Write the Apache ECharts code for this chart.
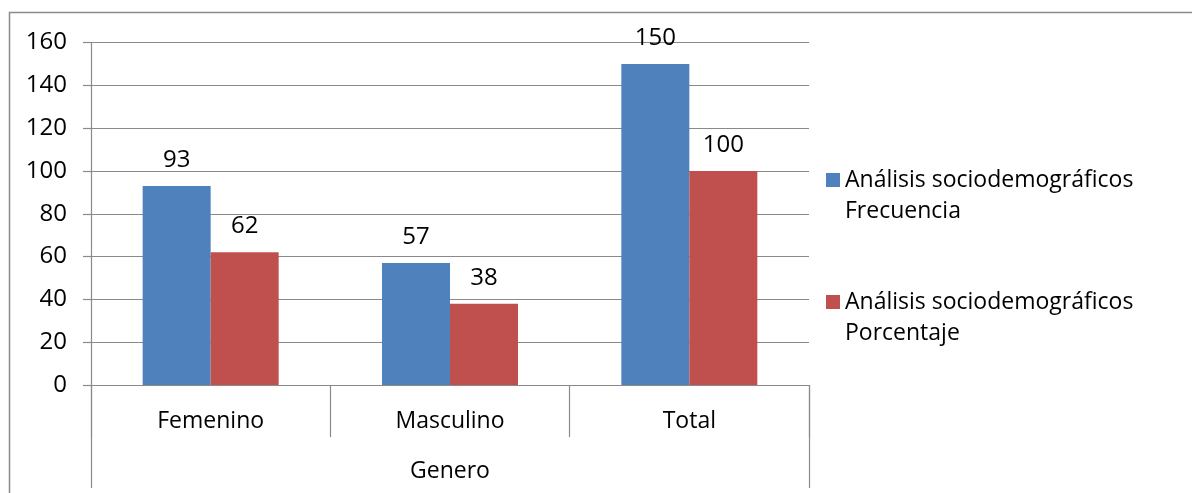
<!DOCTYPE html>
<html><head><meta charset="utf-8">
<script src="https://cdn.jsdelivr.net/npm/echarts@6/dist/echarts.min.js"></script>
<style>html,body{margin:0;padding:0;background:#fff}#c{width:1192px;height:493px}</style>
</head><body><div id="c"></div>
<script>
const categories = ['Femenino', 'Masculino', 'Total'];
const groupLabel = ['Genero'];
const frecuencia = [93, 57, 150];
const porcentaje = [62, 38, 100];
const seriesNames = ['Análisis sociodemográficos\nFrecuencia', 'Análisis sociodemográficos\nPorcentaje'];
const yMin = 0, yMax = 160, yStep = 20;

const FONT = '"Open Sans", sans-serif';
const GRAY = '#8a8a8a';
const chart = echarts.init(document.getElementById('c'), null, {renderer: 'canvas'});
const labelCfg = {show: true, position: 'top', distance: 14, color: '#000', fontFamily: FONT, fontSize: 24};
chart.setOption({
  animation: false,
  backgroundColor: '#fff',
  grid: {left: 91, right: 383, top: 42.5, bottom: 108, containLabel: false},
  graphic: [{type: 'rect', shape: {x: 9.5, y: 12.5, width: 1300, height: 600}, style: {fill: 'none', stroke: GRAY, lineWidth: 1.5}, silent: true, z: -1}],
  legend: {
    orient: 'vertical', left: 826, top: 133.5, padding: 0, itemGap: 29,
    icon: 'rect', itemWidth: 14, itemHeight: 14,
    formatter: n => '\n' + n,
    textStyle: {fontFamily: FONT, fontSize: 23, color: '#000', lineHeight: 31},
    data: seriesNames
  },
  xAxis: [{
    type: 'category', data: categories, position: 'bottom',
    axisLine: {show: true, lineStyle: {color: GRAY, width: 1.2}},
    axisTick: {show: true, interval: 0, length: 52, lineStyle: {color: GRAY, width: 1.2}},
    axisLabel: {interval: 0, margin: 25, color: '#000', fontFamily: FONT, fontSize: 23},
    splitLine: {show: false}
  }, {
    type: 'category', data: groupLabel, position: 'bottom',
    axisLine: {show: false},
    axisTick: {show: true, length: 103, lineStyle: {color: GRAY, width: 1.2}},
    axisLabel: {margin: 75, color: '#000', fontFamily: FONT, fontSize: 23},
    splitLine: {show: false}
  }],
  yAxis: {
    type: 'value', min: yMin, max: yMax, interval: yStep,
    axisLine: {show: true, lineStyle: {color: GRAY, width: 1.2}},
    axisTick: {show: true, length: 8, lineStyle: {color: GRAY, width: 1.2}},
    axisLabel: {margin: 24, color: '#000', fontFamily: FONT, fontSize: 24},
    splitLine: {show: true, lineStyle: {color: GRAY, width: 1.2}}
  },
  series: [
    {name: seriesNames[0], type: 'bar', data: frecuencia, barWidth: 68, barGap: '0%', itemStyle: {color: '#4F81BD'}, label: labelCfg},
    {name: seriesNames[1], type: 'bar', data: porcentaje, barWidth: 68, barGap: '0%', itemStyle: {color: '#C0504D'}, label: labelCfg}
  ]
});
</script></body></html>
